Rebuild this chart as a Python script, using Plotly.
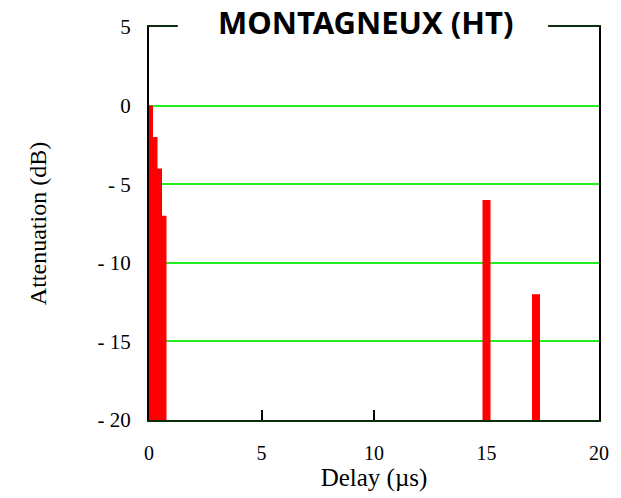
import plotly.graph_objects as go

# GSM hilly-terrain (HT) six-path channel profile
delays_us = [0.0, 0.2, 0.4, 0.6, 15.0, 17.2]
attenuation_db = [0.0, -2.0, -4.0, -7.0, -6.0, -12.0]

y_floor = -20
y_tickvals = [5, 0, -5, -10, -15, -20]
y_ticktext = ["5", "0", "- 5", "- 10", "- 15", "- 20"]
x_tickvals = [0, 5, 10, 15, 20]
x_ticktext = ["0", "5", "10", "15", "20"]

# Each path is drawn as a thick vertical stem rising from the floor of the axis
stem_x, stem_y = [], []
for d, a in zip(delays_us, attenuation_db):
    stem_x += [d, d, None]
    stem_y += [y_floor, a, None]

fig = go.Figure()
fig.add_trace(go.Scatter(
    x=stem_x, y=stem_y, mode="lines",
    line=dict(color="#ff0000", width=8),
    hoverinfo="skip", showlegend=False,
))

serif = "Liberation Serif, Times New Roman, serif"

fig.update_layout(
    width=621, height=498,
    margin=dict(l=149, r=22, t=27, b=76),
    paper_bgcolor="white", plot_bgcolor="white",
    showlegend=False,
    xaxis=dict(
        range=[0, 20], tickvals=x_tickvals, ticktext=x_ticktext,
        ticks="inside", ticklen=10, tickwidth=2, tickcolor="black",
        showgrid=False, zeroline=False,
        showline=True, mirror=True, linecolor="#0d2b0d", linewidth=2,
        tickfont=dict(family=serif, size=20, color="black"),
        ticklabelstandoff=14,
        title=dict(text="Delay (\u00b5s)", font=dict(family=serif, size=25, color="black"), standoff=4),
        layer="below traces",
    ),
    yaxis=dict(
        range=[-20, 5], tickvals=y_tickvals, ticktext=y_ticktext,
        ticks="", showgrid=True, gridcolor="#22ee22", gridwidth=2,
        zeroline=False,
        showline=True, mirror=True, linecolor="black", linewidth=2,
        tickfont=dict(family=serif, size=21, color="black"),
        ticklabelstandoff=12,
        title=dict(text="Attenuation (dB)", font=dict(family=serif, size=24, color="black"), standoff=44),
        layer="below traces",
    ),
    shapes=[dict(
        type="rect", xref="paper", yref="paper",
        x0=0.064, x1=0.887, y0=0.985, y1=1.015,
        fillcolor="white", line=dict(width=0), layer="above",
    )],
    annotations=[dict(
        text="<b>MONTAGNEUX (HT)</b>", xref="paper", yref="paper",
        x=0.48, y=1.013, xanchor="center", yanchor="middle", showarrow=False,
        font=dict(family="Comic Sans MS, Noto Sans, sans-serif", size=31, color="black"),
    )],
)

fig.write_html("out.html")
